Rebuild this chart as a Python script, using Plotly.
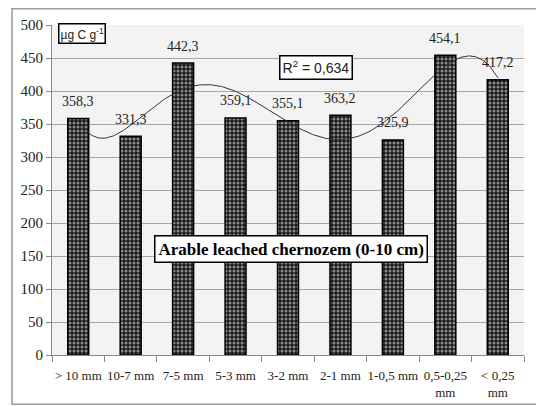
import numpy as np
import plotly.graph_objects as go

categories = ["> 10 mm", "10-7 mm", "7-5 mm", "5-3 mm", "3-2 mm", "2-1 mm",
              "1-0,5 mm", "0,5-0,25<br>mm", "< 0,25<br>mm"]
values = [358.3, 331.3, 442.3, 359.1, 355.1, 363.2, 325.9, 454.1, 417.2]
labels = ["358,3", "331,3", "442,3", "359,1", "355,1", "363,2", "325,9", "454,1", "417,2"]
y_ticks = [0, 50, 100, 150, 200, 250, 300, 350, 400, 450, 500]

xpos = np.arange(1, len(values) + 1)
coef = np.polyfit(xpos, values, 6)
xs = np.linspace(1, len(values), 300)
ys = np.polyval(coef, xs)

serif = "Liberation Serif, Times New Roman, serif"
sans = "Liberation Sans Narrow, Liberation Sans, Arial, sans-serif"

fig = go.Figure()
fig.add_trace(go.Bar(
    x=xpos, y=values, width=0.4,
    marker=dict(color="black", line=dict(color="black", width=1.5),
                pattern=dict(shape=".", bgcolor="#1a1a1a", fgcolor="white", size=4, solidity=0.45)),
    hoverinfo="y",
))
fig.add_trace(go.Scatter(x=xs, y=ys, mode="lines", line=dict(color="#333", width=1), hoverinfo="skip"))

for xv, yv, lab in zip(xpos, values, labels):
    fig.add_annotation(x=xv, y=yv, text=lab, showarrow=False, yshift=17,
                       xanchor="center", yanchor="middle",
                       font=dict(family=serif, size=14, color="#222"))

fig.update_layout(
    width=536, height=398, showlegend=False,
    margin=dict(l=44, r=20, t=17, b=51),
    paper_bgcolor="white", plot_bgcolor="#f3f3f3",
    xaxis=dict(range=[0.5, 9.5], tickvals=list(xpos), ticktext=categories, ticks="",
               showgrid=False, zeroline=False, showline=True, linecolor="#888", linewidth=1,
               tickfont=dict(family=serif, size=13, color="#222"), ticklabelstandoff=8,
               automargin=False,
               minor=dict(ticks="outside", tick0=0.5, dtick=1, ticklen=6, tickcolor="#888", showgrid=False)),
    yaxis=dict(range=[0, 500], tickvals=y_ticks, showgrid=True, gridcolor="#a6a6a6", gridwidth=1,
               zeroline=False, showline=True, linecolor="#888", linewidth=1,
               ticks="outside", ticklen=5, tickcolor="#888", automargin=False,
               tickfont=dict(family=serif, size=15, color="#222")),
)

fig.add_shape(type="rect", xref="paper", yref="paper", x0=-0.0847, x1=1.0339, y0=-0.149, y1=1.049,
              line=dict(color="#999", width=1.5), fillcolor="rgba(0,0,0,0)")

fig.add_annotation(xref="paper", yref="paper", x=(82 - 52) / 472, y=(355 - 34) / 330,
                   xanchor="center", yanchor="middle",
                   text="µg C g<sup>-1</sup>", showarrow=False,
                   font=dict(family=sans, size=12, color="#222"),
                   bgcolor="white", bordercolor="black", borderwidth=1.5, borderpad=1)
fig.add_annotation(xref="paper", yref="paper", x=(316 - 52) / 472, y=(355 - 67) / 330,
                   xanchor="center", yanchor="middle",
                   text="R<sup>2</sup> = 0,634", showarrow=False,
                   font=dict(family=sans, size=14, color="#222"),
                   bgcolor="white", bordercolor="black", borderwidth=1.5, borderpad=2)
fig.add_annotation(xref="paper", yref="paper", x=(291 - 52) / 472, y=(355 - 249) / 330,
                   xanchor="center", yanchor="middle",
                   text="<b>Arable leached chernozem (0-10 cm)</b>", showarrow=False,
                   font=dict(family=serif, size=17, color="black"),
                   bgcolor="white", bordercolor="black", borderwidth=1.5, borderpad=3)

fig.write_html("out.html")
